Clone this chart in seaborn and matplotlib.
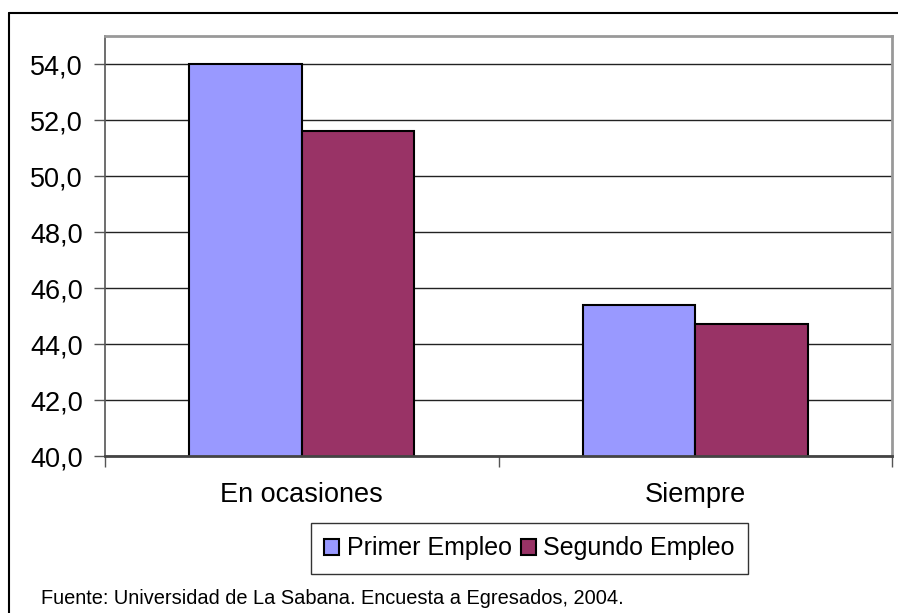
import pandas as pd
import matplotlib.pyplot as plt
import seaborn as sns
from matplotlib.lines import Line2D
from matplotlib.ticker import FuncFormatter

### data
categories = ['En ocasiones', 'Siempre']
primer_empleo = [54.0, 45.4]
segundo_empleo = [51.6, 44.7]
series_names = ['Primer Empleo', 'Segundo Empleo']
footer = 'Fuente: Universidad de La Sabana. Encuesta a Egresados, 2004.'

df = pd.DataFrame({
    'categoria': categories * 2,
    'valor': primer_empleo + segundo_empleo,
    'serie': [series_names[0]] * 2 + [series_names[1]] * 2,
})

sns.set_style('white')
plt.rcParams['font.family'] = ['Liberation Sans', 'DejaVu Sans']
plt.rcParams['text.color'] = 'black'
plt.rcParams['xtick.labelcolor'] = 'black'
plt.rcParams['ytick.labelcolor'] = 'black'

W, H = 898, 613
fig = plt.figure(figsize=(W / 100, H / 100), dpi=100)
ax = fig.add_axes([105 / W, 1 - 456 / H, (892 - 105) / W, (456 - 36) / H])

sns.barplot(data=df, x='categoria', y='valor', hue='serie',
            palette=['#9999FF', '#993366'], saturation=1, width=2 / 3.5, gap=0,
            edgecolor='black', linewidth=1.5, ax=ax, legend=True)

### axes
ax.set_ylim(40, 55)
ax.set_xlim(-0.5, 1.5)
ax.set_yticks([40, 42, 44, 46, 48, 50, 52, 54])
ax.yaxis.set_major_formatter(FuncFormatter(lambda v, p: f'{v:.1f}'.replace('.', ',')))
ax.grid(axis='y', color='#222222', lw=1)
ax.set_axisbelow(True)
ax.set_xlabel('')
ax.set_ylabel('')
ax.tick_params(axis='y', length=8, width=1, color='#555555', pad=8,
               labelsize=19.5, labelcolor='black', direction='out', left=True)
ax.tick_params(axis='x', which='major', length=0, pad=19, labelsize=19.5,
               labelcolor='black')
ax.set_xticks([-0.5, 0.5, 1.5], minor=True)
ax.tick_params(axis='x', which='minor', length=8, width=1, color='#555555',
               direction='out', bottom=True)
for s in ['top', 'right']:
    ax.spines[s].set_color('#999999')
    ax.spines[s].set_linewidth(2)
ax.spines['left'].set_color('#555555')
ax.spines['bottom'].set_color('#444444')
ax.spines['left'].set_linewidth(1.2)
ax.spines['bottom'].set_linewidth(2)

### legend under the axis
handles, labels = ax.get_legend_handles_labels()
ax.get_legend().remove()
leg = fig.legend(handles, labels, loc='center',
                 bbox_to_anchor=(529.5 / W, 1 - 548.5 / H), ncol=2,
                 fontsize=18, frameon=True, fancybox=False, edgecolor='black',
                 handlelength=0.6, handleheight=0.6, handletextpad=0.3,
                 columnspacing=0.35, borderpad=0.55, borderaxespad=0)
leg.get_frame().set_linewidth(1)

### source note
fig.text(41 / W, 1 - 604 / H, footer, fontsize=14.4, va='baseline', color='black')

### outer frame (top and left edges visible)
fig.add_artist(Line2D([9 / W, 9 / W], [0, 1 - 13 / H], color='black', lw=1.5))
fig.add_artist(Line2D([9 / W, 1], [1 - 13 / H, 1 - 13 / H], color='black', lw=1.5))

fig.savefig('out.png', dpi=100)
